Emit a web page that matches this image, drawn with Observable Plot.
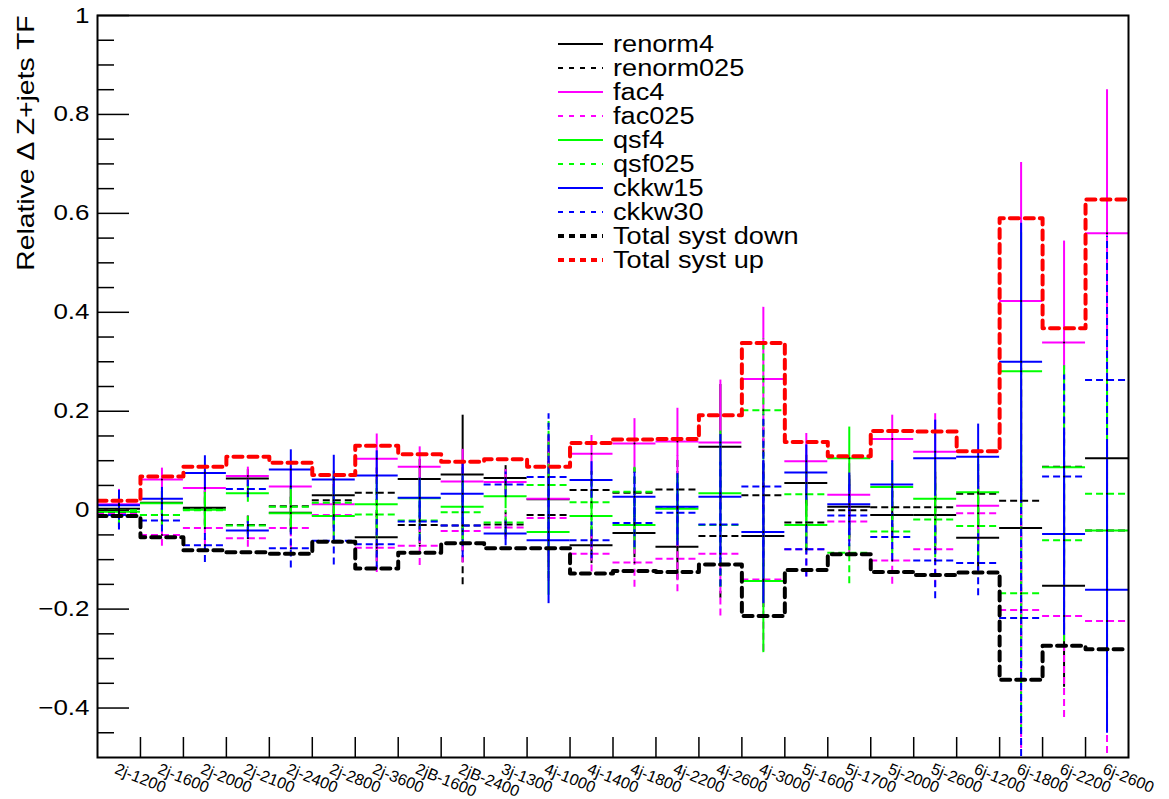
<!DOCTYPE html>
<html>
<head>
<meta charset="utf-8">
<script src="https://cdn.jsdelivr.net/npm/d3@7"></script>
<script src="https://cdn.jsdelivr.net/npm/@observablehq/plot@0.6"></script>
<style>
  html, body { margin: 0; padding: 0; background: #fff; }
  #wrap { position: relative; width: 1169px; height: 799px; font-family: "Liberation Sans", Arial, Helvetica, sans-serif; }
  #legend { position: absolute; left: 550px; top: 30px; }
</style>
</head>
<body>
<div id="wrap"><div id="chart"></div><svg id="legend" width="330" height="250"></svg></div>
<script>
// ---- data ----
const bins = ["2j-1200","2j-1600","2j-2000","2j-2100","2j-2400","2j-2800","2j-3600","2jB-1600","2jB-2400","3j-1300","4j-1000","4j-1400","4j-1800","4j-2200","4j-2600","4j-3000","5j-1600","5j-1700","5j-2000","5j-2600","6j-1200","6j-1800","6j-2200","6j-2600"];

const renorm4   = [0.003, 0.015, 0.005, 0.064, -0.005, 0.030, -0.055, 0.063, 0.072, 0.065, 0.022, -0.071, -0.046, -0.074, 0.128, -0.052, 0.055, 0.007, -0.010, -0.010, -0.056, -0.036, -0.153, 0.105];
const renorm025 = [-0.005, -0.010, 0.003, -0.030, 0.008, 0.020, 0.035, -0.030, -0.031, -0.029, -0.010, 0.041, 0.035, 0.042, -0.052, 0.030, -0.025, 0.000, 0.006, 0.006, 0.033, 0.019, 0.088, -0.041];
const fac4      = [0.012, 0.062, 0.045, 0.069, 0.048, 0.012, 0.104, 0.088, 0.058, 0.057, 0.023, 0.114, 0.135, 0.139, 0.137, 0.265, 0.099, 0.031, 0.144, 0.118, 0.009, 0.423, 0.339, 0.560];
const fac025    = [-0.008, -0.050, -0.036, -0.057, -0.036, -0.010, -0.076, -0.072, -0.042, -0.035, -0.016, -0.088, -0.106, -0.098, -0.088, -0.140, -0.079, -0.023, -0.102, -0.079, -0.006, -0.202, -0.214, -0.224];
const qsf4      = [-0.003, 0.014, 0.001, 0.034, -0.006, -0.012, 0.012, 0.024, 0.007, 0.028, -0.044, -0.012, -0.030, 0.003, 0.034, -0.143, -0.030, 0.105, 0.047, 0.023, 0.036, 0.281, 0.087, -0.041];
const qsf025    = [0.000, -0.010, 0.000, -0.031, 0.007, 0.015, -0.009, -0.021, -0.004, -0.025, 0.051, 0.016, 0.037, 0.006, -0.030, 0.202, 0.032, -0.086, -0.043, -0.019, -0.032, -0.168, -0.061, 0.033];
const ckkw15    = [0.010, 0.023, 0.075, -0.041, 0.082, 0.062, 0.070, 0.025, 0.033, -0.047, -0.061, 0.061, 0.027, 0.007, 0.027, -0.044, 0.076, 0.012, 0.052, 0.105, 0.108, 0.300, -0.048, -0.161];
const ckkw30    = [-0.010, -0.021, -0.071, 0.043, -0.077, -0.062, -0.069, -0.023, -0.031, 0.052, 0.067, -0.061, -0.026, -0.005, -0.029, 0.048, -0.079, -0.011, -0.054, -0.102, -0.107, -0.218, 0.068, 0.263];
const totalDown = [-0.012, -0.055, -0.081, -0.085, -0.088, -0.064, -0.118, -0.086, -0.067, -0.077, -0.077, -0.128, -0.123, -0.125, -0.110, -0.214, -0.121, -0.089, -0.125, -0.131, -0.126, -0.343, -0.274, -0.281];
const totalUp   = [0.019, 0.068, 0.088, 0.108, 0.096, 0.071, 0.130, 0.113, 0.098, 0.103, 0.088, 0.136, 0.143, 0.144, 0.192, 0.338, 0.138, 0.109, 0.160, 0.159, 0.119, 0.590, 0.368, 0.628];

const statErr   = [0.030, 0.023, 0.035, 0.018, 0.040, 0.049, 0.050, 0.040, 0.065, 0.025, 0.128, 0.037, 0.050, 0.067, 0.126, 0.145, 0.056, 0.063, 0.048, 0.077, 0.066, 0.280, 0.205, 0.290];
const renormErr = [0.030, 0.023, 0.035, 0.018, 0.040, 0.049, 0.050, 0.040, 0.120, 0.025, 0.128, 0.037, 0.050, 0.067, 0.126, 0.145, 0.056, 0.063, 0.048, 0.077, 0.066, 0.280, 0.205, 0.290];

const yTickValues = [-0.4, -0.2, 0, 0.2, 0.4, 0.6, 0.8, 1];
const yTickLabels = ["\u22120.4", "\u22120.2", "0", "0.2", "0.4", "0.6", "0.8", "1"];
const yMinorTicks = [-0.45,-0.35,-0.3,-0.25,-0.15,-0.1,-0.05,0.05,0.1,0.15,0.25,0.3,0.35,0.45,0.5,0.55,0.65,0.7,0.75,0.85,0.9,0.95];
const yTitle = "Relative \u0394 Z+jets TF";

const seriesNames = ["renorm4","renorm025","fac4","fac025","qsf4","qsf025","ckkw15","ckkw30"];
const seriesValues = [renorm4, renorm025, fac4, fac025, qsf4, qsf025, ckkw15, ckkw30];
const seriesErrors = [renormErr, renormErr, statErr, statErr, statErr, statErr, statErr, statErr];
const seriesColors = ["#000000","#000000","#ff00ff","#ff00ff","#00ff00","#00ff00","#0000ff","#0000ff"];
const seriesDashed = [false, true, false, true, false, true, false, true];
const totalNames = ["Total syst down", "Total syst up"];
const totalValues = [totalDown, totalUp];
const totalColors = ["#000000", "#ff0000"];

// ---- layout ----
const W = 1169, H = 799;
const mL = 97, mR = 41, mT = 15, mB = 42;
const nb = bins.length;
const pxPerX = (W - mL - mR) / nb;
const pxPerY = (H - mT - mB) / 1.5;
const thinDash = "7,4";
const thickDash = "9,6";
const font = "'Liberation Sans', Arial, Helvetica, sans-serif";
const glyphStretch = 1.18;

const idx = d3.range(nb);
const marks = [];

// series: horizontal bin lines + vertical error bars
seriesValues.forEach((vals, s) => {
  const errs = seriesErrors[s];
  const dash = seriesDashed[s] ? thinDash : null;
  marks.push(Plot.ruleY(idx, {
    y: i => vals[i], x1: i => i, x2: i => i + 1,
    stroke: seriesColors[s], strokeWidth: 2, strokeDasharray: dash, clip: true
  }));
  marks.push(Plot.ruleX(idx, {
    x: i => i + 0.5, y1: i => vals[i] - errs[i], y2: i => vals[i] + errs[i],
    stroke: seriesColors[s], strokeWidth: 2, strokeDasharray: dash, clip: true
  }));
});
// small markers at bin centers
seriesValues.forEach(vals => {
  marks.push(Plot.dot(idx, {x: i => i + 0.5, y: i => vals[i], r: 1, fill: "#000", stroke: null, clip: true}));
});
// totals as step histograms
totalValues.forEach((vals, t) => {
  const pts = d3.range(nb + 1);
  marks.push(Plot.line(pts, {
    x: i => i, y: i => vals[Math.min(i, nb - 1)], curve: "step-after",
    stroke: totalColors[t], strokeWidth: 4, strokeDasharray: thickDash, clip: true
  }));
});

// axes
marks.push(Plot.ruleY(yTickValues, {y: d => d, x1: 0, x2: 32 / pxPerX, stroke: "#000", strokeWidth: 1.5}));
marks.push(Plot.ruleY(yMinorTicks, {y: d => d, x1: 0, x2: 17 / pxPerX, stroke: "#000", strokeWidth: 1.5}));
marks.push(Plot.ruleX(d3.range(1, nb), {x: d => d, y1: -0.5, y2: -0.5 + 20 / pxPerY, stroke: "#000", strokeWidth: 1.5}));
marks.push(Plot.axisY({ticks: yTickValues, tickFormat: d => yTickLabels[yTickValues.indexOf(d)], tickSize: 0, tickPadding: 8, fontSize: 22, label: null}));
marks.push(Plot.text(idx, {
  x: i => i + 0.5, frameAnchor: "bottom", text: i => bins[i],
  rotate: 22, textAnchor: "start", lineAnchor: "top", dx: -1, dy: 5, fontSize: 16, fill: "#000"
}));
marks.push(Plot.text([yTitle], {
  frameAnchor: "top-left", text: d => d, rotate: -90, textAnchor: "end", lineAnchor: "bottom",
  dx: -64, dy: 0, fontSize: 24, fill: "#000"
}));
marks.push(Plot.frame({stroke: "#000", strokeWidth: 2}));

const chart = Plot.plot({
  width: W, height: H,
  marginLeft: mL, marginRight: mR, marginTop: mT, marginBottom: mB,
  x: {domain: [0, nb], axis: null},
  y: {domain: [-0.5, 1], axis: null},
  style: {fontFamily: font, background: "#fff", color: "#000"},
  marks
});
document.getElementById("chart").appendChild(chart);

// ---- legend ----
const leg = d3.select("#legend");
const legNames = seriesNames.concat(totalNames);
const legColors = seriesColors.concat(totalColors);
const legDash = seriesDashed.map(d => d ? "5,6" : null).concat(["6,5", "6,5"]);
const legWidth = seriesNames.map(() => 2).concat([4, 4]);
legNames.forEach((name, k) => {
  const y = 14 + 24 * k;
  leg.append("line").attr("x1", 8).attr("x2", 53).attr("y1", y).attr("y2", y)
    .attr("stroke", legColors[k]).attr("stroke-width", legWidth[k])
    .attr("stroke-dasharray", legDash[k]);
  leg.append("text").attr("x", 63).attr("y", y).attr("dy", "0.35em")
    .attr("font-family", font).attr("font-size", 23).attr("fill", "#000").text(name);
});

// ROOT's Helvetica renders wider than Liberation Sans: widen glyphs along the text direction
function widen(nodes) {
  nodes.forEach(node => {
    const L = node.getComputedTextLength();
    if (L > 0) {
      node.setAttribute("textLength", (L * glyphStretch).toFixed(1));
      node.setAttribute("lengthAdjust", "spacingAndGlyphs");
    }
  });
}
widen(Array.from(chart.querySelectorAll("text")).filter(n => !bins.includes(n.textContent)));
widen(Array.from(document.querySelectorAll("#legend text")));
</script>
</body>
</html>
